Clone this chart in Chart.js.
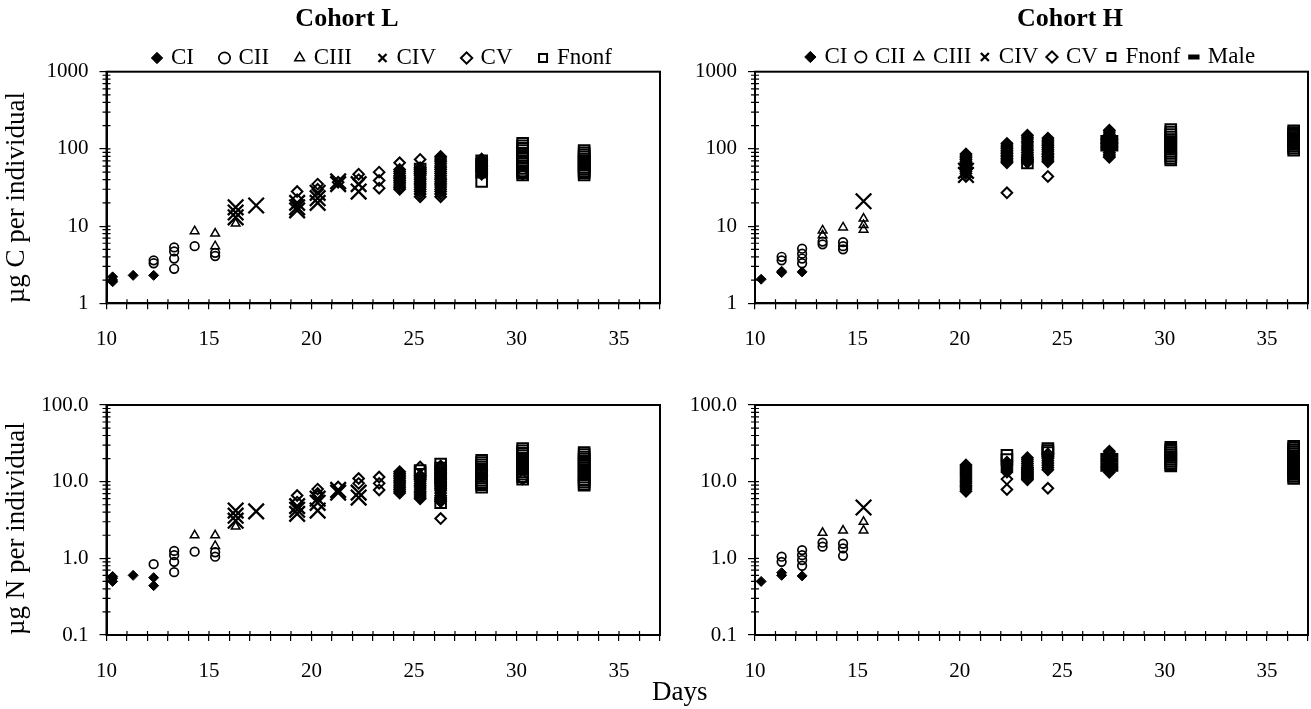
<!DOCTYPE html>
<html>
<head>
<meta charset="utf-8">
<script src="https://cdn.jsdelivr.net/npm/chart.js@4.4.1/dist/chart.umd.min.js"></script>
<style>
html, body { margin: 0; padding: 0; background: #fff; overflow: hidden; }
body { width: 1311px; height: 709px; position: relative; }
canvas { position: absolute; }
#days { position: absolute; left: 652px; top: 676px; font: 27px "Liberation Serif", serif; color: #000; }
</style>
</head>
<body>
<canvas id="lc" width="694" height="370" style="left:0px;top:0px"></canvas>
<canvas id="hc" width="780" height="370" style="left:680px;top:0px"></canvas>
<canvas id="ln" width="694" height="329" style="left:0px;top:380px"></canvas>
<canvas id="hn" width="780" height="329" style="left:680px;top:380px"></canvas>
<div id="days">Days</div>
<script>
// stages and axis ticks
const stages = ['CI', 'CII', 'CIII', 'CIV', 'CV', 'Fnonf', 'Male'];
const cTicks = [1, 10, 100, 1000];
const nTicks = [0.1, 1, 10, 100];
const dayTicks = [10, 15, 20, 25, 30, 35];

// each series: [day, [values per individual]]
// Cohort L, carbon
const lcCI = [[10.3, [2.2, 2.0, 1.9]], [11.3, [2.3]], [12.3, [2.3]]];
const lcCII = [[12.3, [3.6, 3.3]], [13.3, [5.3, 4.7, 3.8, 2.8]], [14.3, [5.5]], [15.3, [4.5, 4.1]]];
const lcCIII = [[14.3, [8.6]], [15.3, [8.0, 5.5]], [16.3, [10.8]]];
const lcCIV = [[16.3, [17.5, 15, 13]], [17.3, [18.5]], [19.3, [20, 17.5, 16]], [20.3, [27, 23, 20]], [21.3, [38, 35]], [22.3, [35, 28]]];
const lcCV = [[19.3, [28, 22]], [20.3, [35, 30]], [21.3, [37]], [22.3, [47, 40]], [23.3, [50, 39, 31]],
  [24.3, [66, 54, 51, 48, 45, 43, 41, 39, 37, 35, 33, 31.5, 30]],
  [25.3, [73, 57, 54, 51, 48, 45, 42, 40, 38, 36, 34, 32, 30, 28, 26, 24]],
  [26.3, [80, 76, 72, 68, 64, 60, 57, 54, 51, 48, 45, 42, 40, 38, 36, 34, 32, 30, 28, 26, 24]],
  [28.3, [74, 70, 66, 62, 59, 56, 53, 50, 47]], [30.3, [47]]];
const lcFnonf = [[25.3, [55]], [28.3, [70, 60, 50, 38]],
  [30.3, [118, 110, 102, 95, 88, 82, 76, 70, 65, 60, 56, 52, 49, 46]],
  [33.3, [95, 89, 84, 79, 74, 70, 66, 62, 58, 55, 52, 49, 46]]];

// Cohort H, carbon
const hcCI = [[10.3, [2.05]], [11.3, [2.6, 2.5]], [12.3, [2.55]]];
const hcCII = [[11.3, [4.0, 3.6]], [12.3, [5.1, 4.4, 3.8, 3.3]], [13.3, [6.3, 5.8]], [14.3, [6.2, 5.5, 5.0]]];
const hcCIII = [[13.3, [8.8, 7.6]], [14.3, [9.6]], [15.3, [12.5, 10.3, 9.0]]];
const hcCIV = [[15.3, [21]], [20.3, [52, 46]]];
const hcCV = [[20.3, [86, 81, 77, 73, 69, 66, 63, 60, 57, 54, 51, 48, 44]],
  [22.3, [118, 112, 106, 101, 96, 91, 87, 83, 79, 75, 72, 69, 66, 27]],
  [23.3, [150, 142, 134, 126, 119, 112, 106, 100, 95, 90, 85, 81, 77, 73, 70, 67]],
  [24.3, [138, 130, 123, 116, 110, 104, 98, 93, 88, 84, 80, 76, 72, 68, 44]],
  [27.3, [175, 165, 155, 146, 138, 130, 122, 115, 108, 102, 96, 90, 85, 81, 78]]];
const hcFnonf = [[23.3, [66]], [30.3, [178, 165, 153, 142, 132, 123, 115, 107, 100, 93, 87, 81, 76, 72]],
  [36.3, [172, 163, 155, 147, 140, 133, 126, 120, 114, 108, 102, 96]]];
const hcMale = [[27.3, [140, 125, 112, 100]]];

// Cohort L, nitrogen
const lnCI = [[10.3, [0.58, 0.55, 0.5]], [11.3, [0.6]], [12.3, [0.56, 0.44]]];
const lnCII = [[12.3, [0.84]], [13.3, [1.25, 1.1, 0.9, 0.66]], [14.3, [1.22]], [15.3, [1.2, 1.05]]];
const lnCIII = [[14.3, [2.0]], [15.3, [2.0, 1.45]], [16.3, [2.6]]];
const lnCIV = [[16.3, [4.2, 3.6, 3.1]], [17.3, [4.1]], [19.3, [4.8, 4.3, 3.8]], [20.3, [6.0, 5.3, 4.2]], [21.3, [7.8, 7.2]], [22.3, [7.2, 6.2]]];
const lnCV = [[19.3, [6.6, 5.4]], [20.3, [8.0, 7.0, 6.5]], [21.3, [8.5]], [22.3, [11, 9.5]], [23.3, [11.5, 9.5, 7.8]],
  [24.3, [13.5, 12.8, 12.1, 11.5, 10.9, 10.3, 9.8, 9.3, 8.8, 8.3, 7.9, 7.5, 7.1]],
  [25.3, [15.5, 12, 11.3, 10.7, 10.1, 9.5, 9, 8.5, 8, 7.5, 7.1, 6.7, 6.3, 6]],
  [26.3, [16, 15, 14, 13, 12.2, 11.4, 10.6, 9.9, 9.3, 8.7, 8.1, 7.6, 7.1, 6.6, 6.2, 5.8, 5.5, 3.3]],
  [28.3, [14, 12]], [30.3, [10.8]]];
const lnFnonf = [[25.3, [14, 12.5]], [26.3, [17, 15, 13, 11, 9.5, 5.3]],
  [28.3, [19, 17.8, 16.6, 15.5, 14.5, 13.6, 12.7, 11.9, 11.1, 10.4, 9.7, 9.1, 8.5]],
  [30.3, [27, 25.2, 23.5, 21.9, 20.4, 19, 17.7, 16.5, 15.4, 14.4, 13.4, 12.5, 11.6, 10.8]],
  [33.3, [24, 22.5, 21, 19.7, 18.4, 17.2, 16.1, 15, 14, 13.1, 12.2, 11.4, 10.6, 9.9, 9.3, 9]]];

// Cohort H, nitrogen
const hnCI = [[10.3, [0.5]], [11.3, [0.65, 0.6]], [12.3, [0.59]]];
const hnCII = [[11.3, [1.05, 0.9]], [12.3, [1.28, 1.1, 0.95, 0.8]], [13.3, [1.6, 1.42]], [14.3, [1.55, 1.35, 1.08]]];
const hnCIII = [[13.3, [2.15]], [14.3, [2.3]], [15.3, [3.0, 2.3]]];
const hnCIV = [[15.3, [4.6]]];
const hnCV = [[20.3, [16.5, 15.5, 14.6, 13.8, 13, 12.2, 11.5, 10.8, 10.2, 9.6, 9, 8.5, 8, 7.5]],
  [22.3, [18, 17, 16, 15.1, 14.2, 13.4, 10.8, 7.9]],
  [23.3, [20.5, 19.3, 18.2, 17.1, 16.1, 15.2, 14.3, 13.4, 12.6, 11.8, 11.1, 10.6]],
  [24.3, [23, 21.5, 20, 18.7, 17.5, 16.4, 15.3, 14.3, 8.2]],
  [27.3, [25, 23.5, 22, 20.6, 19.3, 18.1, 17, 16, 15, 14.1, 13.3]]];
const hnFnonf = [[22.3, [22, 19.5]], [23.3, [13]], [24.3, [27, 25.5, 24]],
  [30.3, [28, 26.5, 25, 23.6, 22.3, 21, 19.8, 18.7, 17.6, 16.7, 16]],
  [36.3, [29, 27.4, 25.9, 24.5, 23.2, 21.9, 20.7, 19.6, 18.5, 17.5, 16.5, 15.6, 14.7, 13.9, 13.1, 12.4, 11.7, 11]]];
const hnMale = [[27.3, [22, 19, 16.5, 14.5]]];

Chart.defaults.font.family = '"Liberation Serif", "Times New Roman", serif';
Chart.defaults.color = '#000';

const open = 'rgba(0,0,0,0)';
const markers = {
  CI:    { pointStyle: 'rectRot', radius: 5, backgroundColor: '#000', borderWidth: 1 },
  CII:   { pointStyle: 'circle', radius: 4.3, backgroundColor: open, borderWidth: 1.7 },
  CIII:  { pointStyle: 'triangle', radius: 5, backgroundColor: open, borderWidth: 1.5 },
  CIV:   { pointStyle: 'crossRot', radius: 11, backgroundColor: open, borderWidth: 2.3 },
  CV:    { pointStyle: 'rectRot', radius: 5.3, backgroundColor: open, borderWidth: 2 },
  Fnonf: { pointStyle: 'rect', radius: 7.5, backgroundColor: open, borderWidth: 2 },
  Male:  { pointStyle: 'line', radius: 9, backgroundColor: '#000', borderWidth: 5 }
};

function toPoints(groups) {
  return groups.flatMap(([d, vals]) => vals.map(v => ({ x: d, y: v })));
}

// box around the plot, inner tick halves and minor log ticks
const framePlugin = {
  id: 'frame',
  afterDatasetsDraw(chart) {
    const { ctx, chartArea: a, scales: { x, y } } = chart;
    ctx.save();
    ctx.strokeStyle = '#000';
    ctx.lineWidth = 2;
    ctx.strokeRect(a.left, a.top, a.right - a.left, a.bottom - a.top);
    ctx.lineWidth = 1.2;
    ctx.beginPath();
    x.ticks.forEach(t => {
      const px = x.getPixelForValue(t.value);
      ctx.moveTo(px, a.bottom);
      ctx.lineTo(px, a.bottom - 4);
    });
    const e0 = Math.round(Math.log10(y.min)), e1 = Math.round(Math.log10(y.max));
    for (let e = e0; e < e1; e++) {
      for (let m = 1; m <= 9; m++) {
        const py = y.getPixelForValue(m * Math.pow(10, e));
        ctx.moveTo(a.left - (m === 1 ? 0 : 4), py);
        ctx.lineTo(a.left + 4, py);
      }
    }
    ctx.stroke();
    ctx.restore();
  }
};

function makePanel(id, p) {
  const names = stages.filter(s => p.series[s]);
  const datasets = names.map(s => Object.assign({
    label: s,
    data: toPoints(p.series[s]),
    borderColor: '#000'
  }, markers[s]));

  const ctx = document.getElementById(id).getContext('2d');
  const H = ctx.canvas.height;
  return new Chart(ctx, {
    type: 'scatter',
    data: { datasets: datasets },
    plugins: [framePlugin],
    options: {
      responsive: false,
      animation: false,
      devicePixelRatio: 1,
      layout: { padding: { left: 0, right: 0, top: p.padTop || 0, bottom: 0 } },
      plugins: {
        tooltip: { enabled: false },
        title: {
          display: !!p.title,
          text: p.title,
          color: '#000',
          font: { size: 26, weight: 'bold' },
          padding: { top: 3.4, bottom: p.titleBottom || 0 }
        },
        legend: {
          display: !!p.title,
          fullSize: false,
          maxHeight: p.legendMax,
          labels: {
            usePointStyle: true,
            boxHeight: 8,
            boxWidth: 5,
            padding: p.legendPad,
            color: '#000',
            font: { size: 23 }
          }
        }
      },
      scales: {
        x: {
          type: 'linear',
          min: 10,
          max: 37,
          afterFit: s => { s.height = H - p.plotBottom; },
          border: { display: true, color: '#000', width: 2 },
          grid: { drawOnChartArea: false, drawTicks: true, tickLength: 6, color: '#000', lineWidth: 1.2 },
          ticks: {
            stepSize: 1,
            autoSkip: false,
            maxRotation: 0,
            padding: 18,
            font: { size: 21 },
            callback: v => dayTicks.includes(v) ? String(v) : ''
          }
        },
        y: {
          type: 'logarithmic',
          min: p.yTicks[0],
          max: p.yTicks[p.yTicks.length - 1],
          afterBuildTicks: s => { s.ticks = p.yTicks.map(v => ({ value: v })); },
          afterFit: s => { s.width = p.yWidth; },
          border: { display: true, color: '#000', width: 2 },
          grid: { drawOnChartArea: false, drawTicks: true, tickLength: 7, color: '#000', lineWidth: 1.2 },
          ticks: {
            padding: 11,
            font: { size: 21 },
            callback: v => p.fmt(v)
          },
          title: {
            display: !!p.yTitle,
            text: p.yTitle,
            align: 'start',
            color: '#000',
            font: { size: 27 },
            padding: { top: 1, bottom: 0 }
          }
        },
        // empty box on the right, keeps the title centred over the whole canvas
        spacer: {
          type: 'linear',
          position: 'right',
          afterFit: s => { s.width = p.spacer; },
          border: { display: false },
          grid: { display: false },
          ticks: { display: false }
        }
      }
    }
  });
}

const fmtC = v => String(v);
const fmtN = v => v.toFixed(1);

makePanel('lc', {
  series: { CI: lcCI, CII: lcCII, CIII: lcCIII, CIV: lcCIV, CV: lcCV, Fnonf: lcFnonf },
  title: 'Cohort L', titleBottom: -16.1, legendPad: 28, legendMax: 53.2,
  yTicks: cTicks, fmt: fmtC, yTitle: '\u00b5g C per individual',
  yWidth: 106.5, spacer: 34, plotBottom: 303.3
});
makePanel('hc', {
  series: { CI: hcCI, CII: hcCII, CIII: hcCIII, CIV: hcCIV, CV: hcCV, Fnonf: hcFnonf, Male: hcMale },
  title: 'Cohort H', titleBottom: -0.1, legendPad: 11, legendMax: 37.2,
  yTicks: cTicks, fmt: fmtC,
  yWidth: 75, spacer: 152, plotBottom: 303.3
});
makePanel('ln', {
  series: { CI: lnCI, CII: lnCII, CIII: lnCIII, CIV: lnCIV, CV: lnCV, Fnonf: lnFnonf },
  yTicks: nTicks, fmt: fmtN, yTitle: '\u00b5g N per individual',
  yWidth: 106.5, spacer: 34, padTop: 25, plotBottom: 255
});
makePanel('hn', {
  series: { CI: hnCI, CII: hnCII, CIII: hnCIII, CIV: hnCIV, CV: hnCV, Fnonf: hnFnonf, Male: hnMale },
  yTicks: nTicks, fmt: fmtN,
  yWidth: 75, spacer: 152, padTop: 25, plotBottom: 255
});
</script>
</body>
</html>
